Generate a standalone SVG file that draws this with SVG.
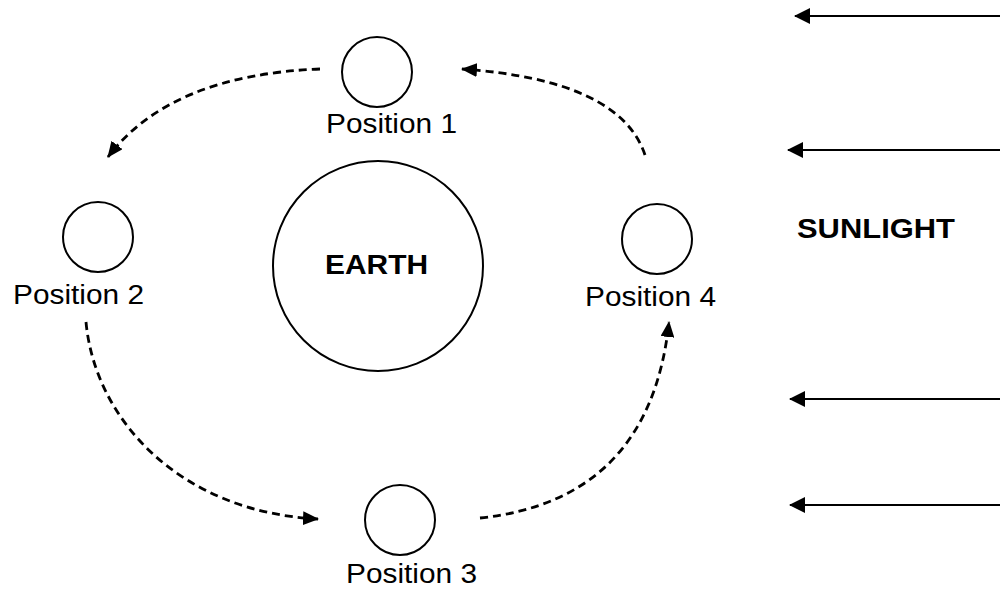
<svg xmlns="http://www.w3.org/2000/svg" width="1000" height="590" viewBox="0 0 1000 590">
<style>
.body{fill:none;stroke:#000;stroke-width:2}
.lbl{font-family:"Liberation Sans",Arial,sans-serif;font-size:27px;fill:#000}
.bold{font-family:"Liberation Sans",Arial,sans-serif;font-size:27px;font-weight:bold;fill:#000}
.orbit{fill:none;stroke:#000;stroke-width:2.8;stroke-dasharray:8 5}
.sun{fill:none;stroke:#000;stroke-width:2.2}
</style>
<defs>
<marker id="ah" viewBox="0 0 16 14" refX="15" refY="7" markerWidth="16" markerHeight="14" markerUnits="userSpaceOnUse" orient="auto">
<path d="M0,0 L16,7 L0,14 Z" fill="#000"/>
</marker>
<marker id="sh" viewBox="0 0 16 16" refX="15" refY="8" markerWidth="16" markerHeight="16" markerUnits="userSpaceOnUse" orient="auto">
<path d="M0,0 L16,8 L0,16 Z" fill="#000"/>
</marker>
</defs>
<rect width="1000" height="590" fill="#fff"/>
<g id="earth">
<circle class="body" cx="378" cy="266" r="105" stroke-width="2.4"/>
<text class="bold" x="325" y="274" textLength="103" lengthAdjust="spacingAndGlyphs">EARTH</text>
</g>
<g id="position1">
<circle class="body" cx="377" cy="72" r="35"/>
<text class="lbl" x="326" y="133" textLength="131" lengthAdjust="spacingAndGlyphs">Position 1</text>
</g>
<g id="position2">
<circle class="body" cx="98" cy="237" r="35"/>
<text class="lbl" x="13" y="304" textLength="131" lengthAdjust="spacingAndGlyphs">Position 2</text>
</g>
<g id="position3">
<circle class="body" cx="400" cy="520" r="35"/>
<text class="lbl" x="346" y="583" textLength="131" lengthAdjust="spacingAndGlyphs">Position 3</text>
</g>
<g id="position4">
<circle class="body" cx="657" cy="239" r="35"/>
<text class="lbl" x="585" y="306" textLength="131" lengthAdjust="spacingAndGlyphs">Position 4</text>
</g>
<g id="sunlight">
<text class="bold" x="797" y="238" textLength="158" lengthAdjust="spacingAndGlyphs">SUNLIGHT</text>
</g>
<g id="connectors">
<path class="orbit" d="M320 69 Q170 75 108 157" marker-end="url(#ah)"/>
<path class="orbit" d="M645 155 Q620 80 462 69" marker-end="url(#ah)"/>
<path class="orbit" d="M86 322 C95 420 180 512 318 519" marker-end="url(#ah)"/>
<path class="orbit" d="M480 518 Q650 500 669 322" marker-end="url(#ah)"/>
<path class="sun" d="M1000 16 L795 16" marker-end="url(#sh)"/>
<path class="sun" d="M1000 150 L788 150" marker-end="url(#sh)"/>
<path class="sun" d="M1000 399 L790 399" marker-end="url(#sh)"/>
<path class="sun" d="M1000 505 L790 505" marker-end="url(#sh)"/>
</g>
</svg>
